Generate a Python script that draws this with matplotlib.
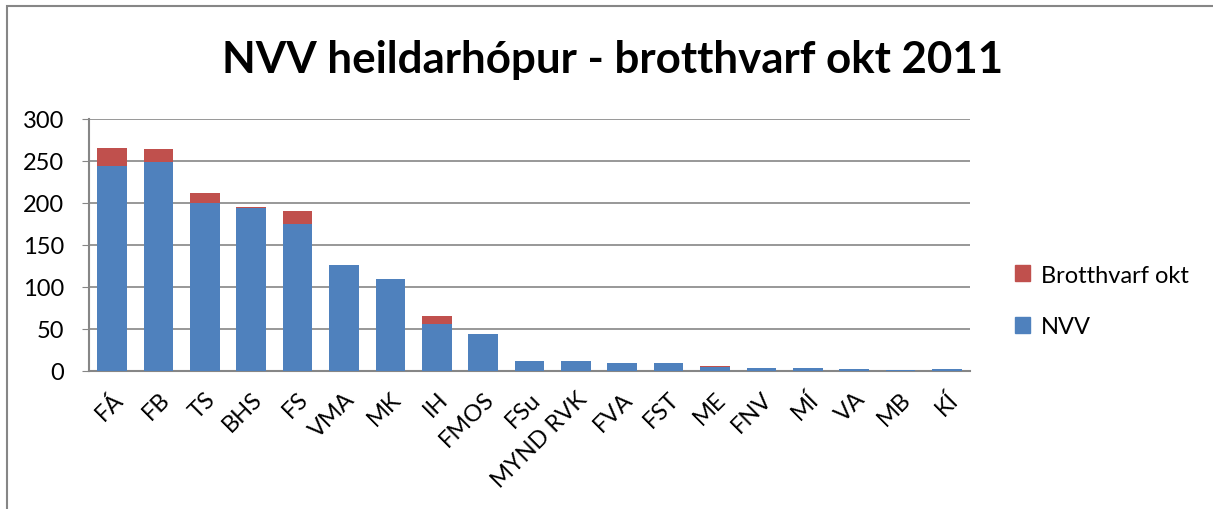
import numpy as np
import matplotlib
matplotlib.use('Agg')
from matplotlib import pyplot as plt
from matplotlib.patches import Patch

plt.rcParams['font.family'] = ['Lato', 'DejaVu Sans']

schools = ['FÁ', 'FB', 'TS', 'BHS', 'FS', 'VMA', 'MK', 'IH', 'FMOS', 'FSu',
           'MYND RVK', 'FVA', 'FST', 'ME', 'FNV', 'MÍ', 'VA', 'MB', 'KÍ']
nvv = [244, 249, 200, 194, 175, 126, 110, 56, 44, 12, 12, 10, 9, 5, 4, 4, 2, 1, 2]
brotthvarf = [22, 15, 12, 1, 16, 0, 0, 10, 0, 0, 0, 0, 0, 1, 0, 0, 0, 0, 0]

blue = '#4F81BD'
red = '#C0504D'
gray = '#868686'

fig = plt.figure(figsize=(12.13, 5.1), dpi=100)
ax = fig.add_axes([89 / 1213, 1 - 372 / 510, 881 / 1213, 252 / 510])

x = np.arange(len(schools))
ax.bar(x, nvv, width=0.64, color=blue, zorder=3)
ax.bar(x, brotthvarf, width=0.64, bottom=nvv, color=red, zorder=3)

ax.set_xlim(-0.5, len(schools) - 0.5)
ax.set_ylim(0, 300)
ax.set_yticks(np.arange(0, 301, 50))
ax.yaxis.grid(True, color=gray, linewidth=1.2, zorder=0)
for s in ['top', 'right']:
    ax.spines[s].set_visible(False)
for s in ['left', 'bottom']:
    ax.spines[s].set_color(gray)
    ax.spines[s].set_linewidth(1.5)
ax.tick_params(axis='y', length=5, color=gray, labelsize=17, pad=13)
ax.tick_params(axis='x', length=0, labelsize=17, pad=12)
ax.set_xticks(x)
ax.set_xticklabels(schools, rotation=45, ha='right', rotation_mode='anchor')

fig.text(0.505, 1 - 73 / 510, 'NVV heildarhópur - brotthvarf okt 2011',
         ha='center', va='baseline', fontsize=31.6, fontweight='bold')

handles = [Patch(color=red, label='Brotthvarf okt'), Patch(color=blue, label='NVV')]
fig.legend(handles=handles, loc='center left', bbox_to_anchor=(1015 / 1213, 1 - 302 / 510),
           frameon=False, fontsize=17, handlelength=0.65, handleheight=0.65,
           handletextpad=0.45, labelspacing=1.3, borderpad=0, borderaxespad=0)

# chart border
border = plt.Rectangle((7 / 1213, -0.1), 1.2, 1.1 - 7 / 510, transform=fig.transFigure,
                       fill=False, edgecolor=gray, linewidth=1.5)
fig.add_artist(border)

fig.savefig('out.png', dpi=100)
